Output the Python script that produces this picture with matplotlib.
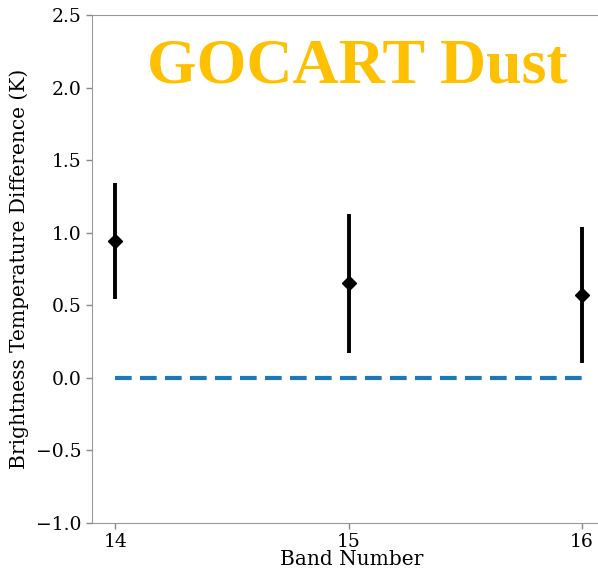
import matplotlib.pyplot as plt

# Band-wise brightness temperature difference (mean and spread)
bands = [14, 15, 16]
btd_mean = [0.94, 0.65, 0.57]
btd_err = [0.40, 0.48, 0.47]

# Zero reference line
zero_x = [14, 16]
zero_y = [0, 0]

plt.rcParams['font.family'] = 'DejaVu Serif'

fig = plt.figure(figsize=(5.98, 5.73), dpi=100)
ax = fig.add_axes([0.1538, 0.0873, 0.87, 0.8866])

ax.plot(zero_x, zero_y, linestyle='--', color='tab:blue', linewidth=3, dashes=(4, 2))
ax.errorbar(bands, btd_mean, yerr=btd_err, fmt='D', color='black',
            markersize=7.5, elinewidth=2.8, capsize=0)

# right side of the axes runs past the figure edge, as in the cropped original
ax.set_xlim(13.9, 16.13)
ax.set_ylim(-1.0, 2.5)
ax.set_xticks(bands)
ax.set_yticks([-1.0, -0.5, 0.0, 0.5, 1.0, 1.5, 2.0, 2.5])
ax.tick_params(labelsize=13.5, color='#888888', length=4, width=1)
for s in ax.spines.values():
    s.set_color('#999999')

ax.set_xlabel('Band Number', fontsize=14.5, labelpad=-1)
ax.set_ylabel('Brightness Temperature Difference (K)', fontsize=14.5, labelpad=5)

ax.text(0.51, 0.868, 'GOCART Dust', transform=ax.transAxes, ha='center', va='baseline',
        fontsize=46, fontweight='bold', color='#FFC000', family='Liberation Serif')

plt.savefig('out.png')
